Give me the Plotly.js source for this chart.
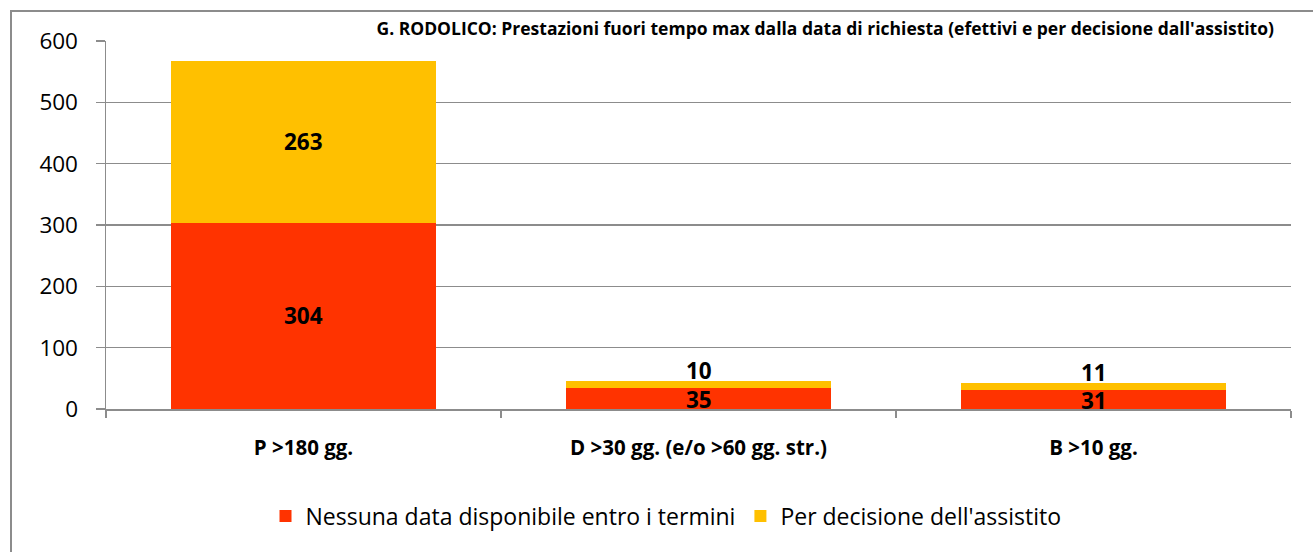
<!DOCTYPE html>
<html><head><meta charset="utf-8">
<script src="https://cdn.plot.ly/plotly-3.0.1.min.js"></script>
<style>
html,body{margin:0;padding:0;overflow:hidden;background:#fff;}
#frame{position:absolute;left:10px;top:10px;width:1400px;height:700px;border:2px solid #8c8c8c;}
#chart{position:absolute;left:0;top:0;width:1313px;height:552px;}
</style>
</head><body>
<div id="frame"></div>
<div id="chart"></div>
<script>
const categories = ['P >180 gg.', 'D >30 gg. (e/o >60 gg. str.)', 'B >10 gg.'];
const nessunaData = [304, 35, 31];
const perDecisione = [263, 10, 11];
const seriesNames = ['Nessuna data disponibile entro i termini', "Per decisione dell'assistito"];
const titleText = "G. RODOLICO: Prestazioni fuori tempo max dalla data di richiesta (efettivi e per decisione dall'assistito)";

const FONT = 'Open Sans, sans-serif';
const traces = [
  {type:'bar', x:categories, y:nessunaData, name:seriesNames[0], marker:{color:'#FF3300'}, hoverinfo:'skip'},
  {type:'bar', x:categories, y:perDecisione, name:seriesNames[1], marker:{color:'#FFC000'}, hoverinfo:'skip'}
];

const annotations = [];
categories.forEach((c,i)=>{
  annotations.push({x:c, y:nessunaData[i]/2, xref:'x', yref:'y', text:'<b>'+nessunaData[i]+'</b>', showarrow:false,
    font:{family:FONT, size:22.5, color:'#000'}, yanchor:'middle', yshift: nessunaData[i] < 60 ? -1 : 0});
  const small = perDecisione[i] < 40;
  annotations.push({x:c, y:nessunaData[i]+perDecisione[i]/2, xref:'x', yref:'y', text:'<b>'+perDecisione[i]+'</b>', showarrow:false,
    font:{family:FONT, size:22.5, color:'#000'}, yanchor:'middle', yshift: small ? 14 : 0});
});

const layout = {
  width:1313, height:552,
  margin:{l:106, r:22, t:41, b:143},
  paper_bgcolor:'rgba(0,0,0,0)', plot_bgcolor:'rgba(0,0,0,0)',
  barmode:'stack', bargap:0.33,
  title:{text:'<b>'+titleText+'</b>', font:{family:FONT, size:17.5, color:'#000'},
    x:1274/1313, xanchor:'right', xref:'container', y:1-29/552, yanchor:'middle', yref:'container'},
  xaxis:{type:'category', showline:true, linecolor:'#8c8c8c', linewidth:1.5, ticks:'outside', tickson:'boundaries',
    ticklen:7, tickcolor:'#8c8c8c', tickwidth:1.5, showgrid:false, ticklabelstandoff:20,
    tickfont:{family:FONT, size:20.5, color:'#000', weight:'bold'}},
  yaxis:{range:[0,600], dtick:100, showline:true, linecolor:'#8c8c8c', linewidth:1.5, ticks:'outside', ticklen:9,
    tickcolor:'#8c8c8c', tickwidth:1.5, showgrid:true, gridcolor:'#8c8c8c', gridwidth:1.5, zeroline:false,
    ticklabelstandoff:13, tickfont:{family:FONT, size:22.5, color:'#000'}},
  showlegend:true,
  legend:{orientation:'h', x:(666-106)/1185, xanchor:'center', y:(409-516)/368, yanchor:'middle',
    font:{family:FONT, size:23, color:'#000'}, traceorder:'normal', itemwidth:30},
  annotations:annotations
};
Plotly.newPlot('chart', traces, layout, {displayModeBar:false, staticPlot:true});
</script>
</body></html>
